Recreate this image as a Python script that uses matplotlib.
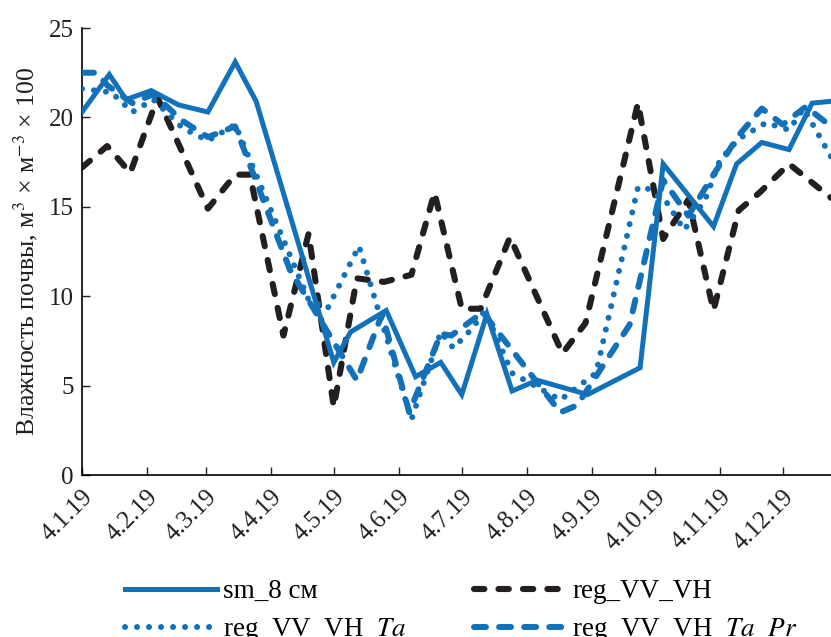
import matplotlib
matplotlib.use("Agg")
import matplotlib.pyplot as plt
import pandas as pd

plt.rcParams['font.family'] = ['Liberation Serif', 'DejaVu Serif']
plt.rcParams['mathtext.fontset'] = 'stix'

# ---- data ----
sm_dates = ["2019-01-04", "2019-01-17", "2019-01-25", "2019-02-06", "2019-02-19", "2019-03-05",
            "2019-03-18", "2019-03-28", "2019-05-04", "2019-05-12", "2019-05-29", "2019-06-12",
            "2019-06-24", "2019-07-04", "2019-07-16", "2019-07-28", "2019-08-09", "2019-09-02",
            "2019-09-27", "2019-10-08", "2019-11-01", "2019-11-12", "2019-11-24", "2019-12-07",
            "2019-12-18", "2019-12-27"]
sm_vals = [20.3, 22.4, 21.0, 21.5, 20.7, 20.3, 23.1, 20.9, 6.3, 8.0, 9.2, 5.5,
           6.3, 4.5, 9.0, 4.7, 5.3, 4.5, 6.0, 17.4, 13.9, 17.4, 18.6, 18.2, 20.8, 20.9]

vv_dates = ["2019-01-04", "2019-01-16", "2019-01-27", "2019-02-09", "2019-03-05", "2019-03-18",
            "2019-03-25", "2019-04-10", "2019-04-22", "2019-05-04", "2019-05-15", "2019-05-28",
            "2019-06-10", "2019-06-21", "2019-07-04", "2019-07-13", "2019-07-27", "2019-08-21",
            "2019-09-01", "2019-09-26", "2019-10-08", "2019-10-20", "2019-11-01", "2019-11-13",
            "2019-11-23", "2019-12-07", "2019-12-27"]
vv_vals = [17.2, 18.4, 16.9, 21.1, 14.9, 16.8, 16.8, 7.8, 13.5, 3.8, 11.0, 10.8,
           11.2, 15.8, 9.3, 9.3, 13.3, 6.8, 8.5, 20.8, 13.2, 15.4, 9.2, 14.8,
           15.8, 17.4, 15.5]

ta_dates = ["2019-01-04", "2019-01-18", "2019-01-28", "2019-02-07", "2019-02-21", "2019-03-05",
            "2019-03-18", "2019-04-22", "2019-05-01", "2019-05-16", "2019-06-10", "2019-06-24",
            "2019-06-30", "2019-07-09", "2019-07-15", "2019-07-28", "2019-08-20", "2019-09-06",
            "2019-09-26", "2019-10-01", "2019-10-10", "2019-10-18", "2019-10-28", "2019-11-04",
            "2019-11-13", "2019-11-26", "2019-12-07", "2019-12-14", "2019-12-27"]
ta_vals = [21.6, 21.4, 20.3, 21.0, 19.4, 18.7, 19.6, 9.8, 9.3, 12.8, 3.1, 8.0,
           7.1, 8.2, 9.2, 5.7, 4.2, 5.7, 16.1, 16.0, 15.2, 13.7, 15.4, 17.6,
           18.8, 19.7, 19.3, 20.5, 17.8]

tapr_dates = ["2019-01-04", "2019-01-11", "2019-01-16", "2019-01-28", "2019-02-07", "2019-02-21",
              "2019-03-05", "2019-03-18", "2019-04-13", "2019-05-15", "2019-05-27", "2019-06-09",
              "2019-06-24", "2019-06-29", "2019-07-14", "2019-08-20", "2019-08-28", "2019-09-22",
              "2019-10-08", "2019-10-20", "2019-11-01", "2019-11-13", "2019-11-24", "2019-12-04",
              "2019-12-15", "2019-12-27"]
tapr_vals = [22.5, 22.5, 21.8, 20.8, 21.3, 19.8, 18.9, 19.5, 11.5, 5.3, 9.0, 3.5,
             7.9, 7.8, 9.1, 3.5, 3.9, 8.4, 16.5, 14.5, 16.8, 19.0, 20.5, 19.6,
             20.6, 19.5]

labels = ["sm_8 см", "reg_VV_VH", r"reg_VV_VH_$\mathit{Ta}$", r"reg_VV_VH_$\mathit{Ta}$_$\mathit{Pr}$"]
tick_dates = ["2019-%02d-04" % m for m in range(1, 13)]
yticks = [0, 5, 10, 15, 20, 25]

blue = "#1271b9"
black = "#231f20"

fig = plt.figure(figsize=(8.31, 6.37), dpi=100)
ax = fig.add_axes([0.0987, 0.2543, 0.9013, 0.7017])

def D(lst):
    return pd.to_datetime(lst)

l_sm, = ax.plot(D(sm_dates), sm_vals, color=blue, lw=3.6, solid_joinstyle='miter', zorder=3)
l_vv, = ax.plot(D(vv_dates), vv_vals, color=black, lw=4.4, dashes=(1.7, 2.3),
                dash_capstyle='round', zorder=2)
l_ta, = ax.plot(D(ta_dates), ta_vals, color=blue, lw=4.3, dashes=(0.01, 2.0),
                dash_capstyle='round', zorder=4)
l_tapr, = ax.plot(D(tapr_dates), tapr_vals, color=blue, lw=4.3, dashes=(2.0, 2.2),
                  dash_capstyle='round', zorder=4)

ax.set_ylim(0, 25)
ax.set_yticks(yticks)
ax.set_xlim(pd.Timestamp("2019-01-04"), pd.Timestamp("2019-12-27"))
ax.set_xticks(D(tick_dates))
ax.set_xticklabels([f"{d.day}.{d.month}.{d.year % 100}" for d in D(tick_dates)],
                   rotation=45, ha='right', va='top', rotation_mode='anchor')
ax.spines['top'].set_visible(False)
ax.spines['right'].set_visible(False)
ax.spines['left'].set_linewidth(1.2)
ax.spines['bottom'].set_linewidth(1.2)
ax.tick_params(direction='in', length=6, width=1.0, labelsize=18, pad=6, colors=black)
ax.tick_params(axis='x', pad=8)
ax.set_ylabel("Влажность почвы, м$^3$ × м$^{-3}$ × 100", fontsize=18.5, color=black, labelpad=6)

fig.legend([l_sm, l_ta, l_vv, l_tapr], [labels[0], labels[2], labels[1], labels[3]],
           ncol=2, loc='upper left', bbox_to_anchor=(0.150, 0.091), frameon=False,
           fontsize=19.5, handlelength=3.4, columnspacing=2.5, labelspacing=0.45,
           handletextpad=0.22, borderaxespad=0, borderpad=0)

fig.savefig("out.png", dpi=100)
